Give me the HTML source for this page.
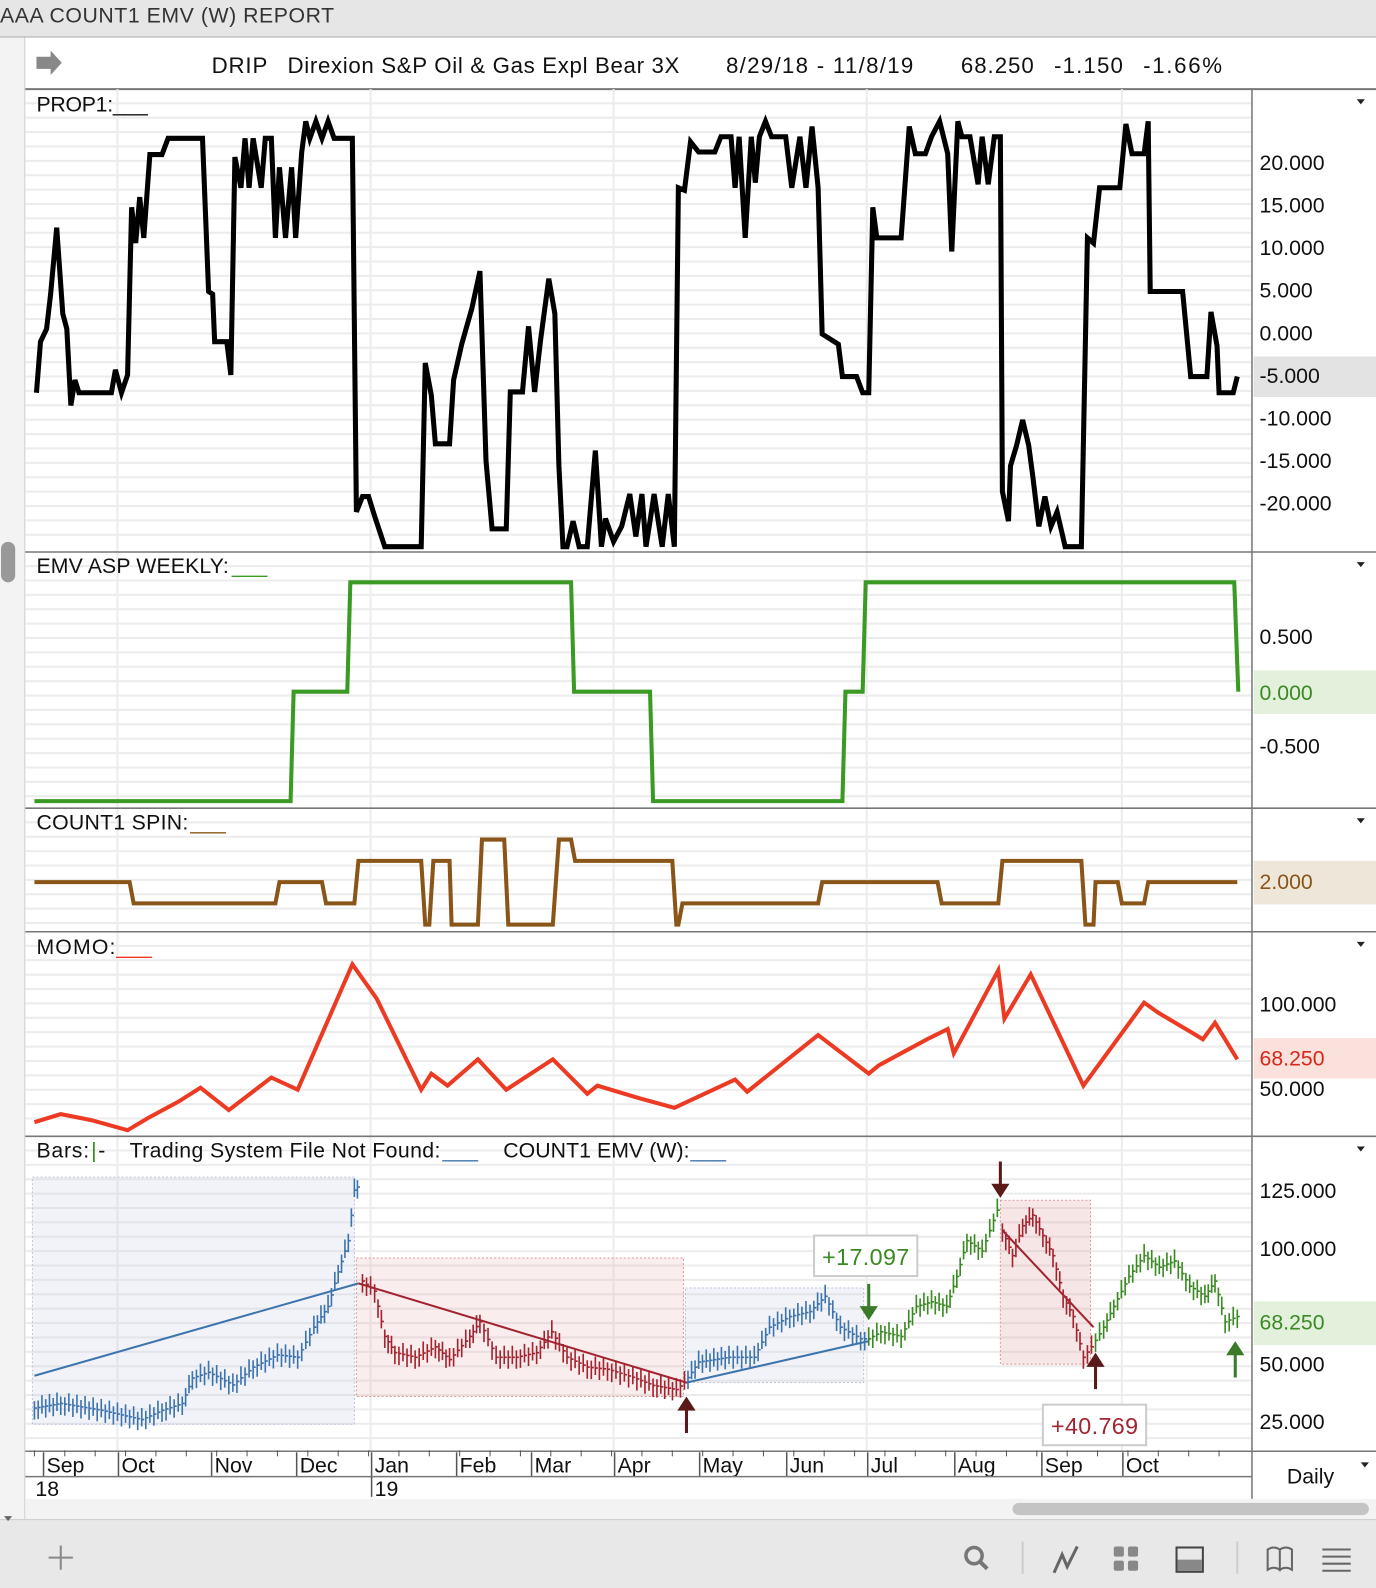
<!DOCTYPE html>
<html><head><meta charset="utf-8"><style>
html,body{margin:0;padding:0;width:1376px;height:1588px;overflow:hidden;background:#fff;font-family:"Liberation Sans",sans-serif;}
svg{display:block;position:absolute;left:0;top:0}
text{font-family:"Liberation Sans",sans-serif;}
</style></head><body>
<svg id="c" width="1376" height="1588" viewBox="0 0 1359 1568" preserveAspectRatio="none" xmlns="http://www.w3.org/2000/svg">
<rect x="0" y="0" width="1376" height="1588" fill="#fff"/>
<rect x="0" y="0" width="1376" height="36" fill="#e6e6e6"/>
<line x1="0" y1="36.5" x2="1376" y2="36.5" stroke="#aaa"/>
<text x="0" y="22" font-size="21" fill="#333" textLength="330">AAA COUNT1 EMV (W)  REPORT</text>
<rect x="0" y="37" width="24" height="1463" fill="#f3f3f3"/>
<line x1="24.5" y1="37" x2="24.5" y2="1500" stroke="#ccc"/>
<rect x="1" y="535" width="14" height="40" rx="7" fill="#999"/>
<path d="M36 56h14v-6l11 12l-11 12v-6h-14z" fill="#888"/>
<g font-size="22" fill="#111">
<text x="209" y="72" textLength="55">DRIP</text>
<text x="284" y="72" textLength="387">Direxion S&amp;P Oil &amp; Gas Expl Bear 3X</text>
<text x="717" y="72" textLength="185">8/29/18 - 11/8/19</text>
<text x="949" y="72" textLength="72">68.250</text>
<text x="1041" y="72" textLength="68">-1.150</text>
<text x="1129" y="72" textLength="78">-1.66%</text>
</g>
<line x1="25" y1="88" x2="1359" y2="88" stroke="#777" stroke-width="2"/>
<g id="grid"></g>
<g id="marks"></g>
<line x1="1236.5" y1="88" x2="1236.5" y2="1480" stroke="#777" stroke-width="1.5"/>
<g id="axis"></g>
<rect x="25" y="1480" width="1351" height="20" fill="#f3f3f3"/>
<rect x="1000" y="1484" width="352" height="12" rx="6" fill="#c4c4c4"/>
<rect x="0" y="1500" width="1376" height="88" fill="#e8e8e8"/>
<line x1="0" y1="1500.5" x2="1376" y2="1500.5" stroke="#ccc"/>
<path d="M4 1497l4 5l4-5z" fill="#666"/>
<g stroke="#888" stroke-width="2" fill="none">
<path d="M60 1526v24M48 1538h24"/>
<circle cx="962" cy="1536" r="8" stroke="#777" stroke-width="3.5"/>
<path d="M968 1542l7 7" stroke="#777" stroke-width="4"/>
<path d="M1010 1522v32M1222 1522v32" stroke="#ccc"/>
<path d="M1041 1553l8-18l5 12l10-20" stroke="#666" stroke-width="3"/>
<rect x="1162" y="1528" width="26" height="24" stroke="#444"/>
<path d="M1252 1530q6-4 12 0v20q-6-4-12 0zM1264 1530q6-4 12 0v20q-6-4-12 0z" stroke="#666"/>
<path d="M1306 1530h28M1306 1537h28M1306 1544h28M1306 1551h28" stroke="#666"/>
</g>
<rect x="1163" y="1540" width="24" height="11" fill="#888"/>
<g fill="#888"><rect x="1100" y="1527" width="10" height="10" rx="2"/><rect x="1114" y="1527" width="10" height="10" rx="2"/><rect x="1100" y="1541" width="10" height="10" rx="2"/><rect x="1114" y="1541" width="10" height="10" rx="2"/></g>
</svg>
<script>
// ---- data ----
const propT=[0.5,1.5,3,4,5.5,7,8,9,10,11,19,20,21.5,23,24,25,26,27,28.5,31.5,33,41.5,43,44,44.5,47.5,48.5,49.5,51,52,53,54,56,57,58.5,59.5,60.5,62,63.5,64.5,66,67,68,69.5,71,72.5,74,78.5,79.5,81,82.5,84,86.5,95.5,96.5,98,99,102.5,103.5,105.5,108,110,111.5,113,116.5,117.5,120.5,122,123.5,125,127,128.5,129.5,130.5,131.5,133,134.5,136.5,138.5,140,141,143,145,147,148.5,150,151,152,153,155,156.5,158,159,160.5,162,164,168,169.5,172,173,174,175.5,177,178,179,180.5,182,185.5,187,189,190.5,192,193.5,194.5,198.5,199.5,203,204.5,206,207,208,214,216,217.5,220,221.5,223.5,225.5,226.5,228,229,231,233,234,235.5,237,238.5,239,240.5,241,242.5,244,245.5,246.5,248,249.5,251,252.5,254.5,258.5,260,261.5,263,268,269.5,271,274,275,275.5,283.5,285.5,289.5,290.5,292,292.5,296,297];
const propV=[-7,-1,0.5,4.6,12.4,2.3,0.5,-8.5,-5.5,-7,-7,-4.3,-7,-4.9,14.8,10.6,16,11.2,21,21,22.9,22.9,4.9,4.6,-1,-1,-4.9,20.7,17.1,22.9,17.1,22.9,17.1,22.9,22.9,11.2,19.5,11.2,19.5,11.2,21.3,24.9,22.9,24.9,22.9,24.9,22.9,22.9,-21,-19.2,-19.2,-21.5,-25.1,-25.1,-3.5,-7.3,-13,-13,-5.5,-1.3,2.9,7.3,-15,-23,-23,-6.9,-6.9,0.8,-6.9,-0.7,6.4,2.3,-15.6,-25.1,-25.1,-22.1,-25.1,-25.1,-13.8,-25.1,-21.8,-24.5,-22.7,-18.9,-23.9,-18.9,-25.1,-22.1,-18.9,-25.1,-18.9,-25.1,17.1,16.8,22.5,21.3,21.3,23.1,23.1,17.1,23.1,11.2,23.1,17.7,23.1,24.9,23.1,23.1,17.1,23.1,17.1,24.3,17.1,-0.1,-1.3,-5.1,-5.1,-7,-7,14.8,11.2,11.2,24.3,21.1,21.1,23.1,24.9,21.1,9.6,24.9,23.1,23.1,17.5,23.1,17.5,23.1,23.1,-18.6,-22.1,-15.6,-13.2,-10.2,-13.2,-16.8,-22.7,-19.2,-22.7,-21,-25.1,-25.1,11.2,10.6,17.1,17.1,24.6,21.1,21.1,24.9,4.9,4.9,-5.1,-5.1,2.5,-1.5,-7,-7,-5.1];
const emvT=[0,63.25,64,77.25,78,132.5,133.25,152,152.75,199.5,200.25,204.5,205.25,296.25,297.25];
const emvV=[-1,-1,0,0,1,1,0,0,-1,-1,0,0,1,1,0];
const spinT=[0,23.5,24.5,59.5,60.5,71,72,79,80,95.5,96.5,97.5,98.5,102.5,103,109.5,110.5,116,117,128,129.5,132.5,133.5,157.5,158.5,159,160,193.5,194.5,223,224,238,239,258.5,259.5,261.5,262,267.5,268.5,274,275,297];
const spinV=[2,2,1,1,2,2,1,1,3,3,0,0,3,3,0,0,4,4,0,0,4,4,3,3,0,0,1,1,2,2,1,1,3,3,0,0,2,2,1,1,2,2];
const momoT=[0,6.5,14,23,28,35.5,41,48,58.5,65,78.5,84.5,95.5,98,102,109.5,116.5,128,136.5,139,149,158,173,176,193.5,206,208.5,220.5,225.5,227,238,239.5,246,259,274,277.5,286,288.5,291.5,297];
const momoV=[30.1,34.9,31.3,25.3,32.5,42.2,50.6,37.3,56.6,49.4,124,103.6,49.4,59,51.8,67.5,49.4,67.5,47,51.8,44.6,38.6,55.4,48.2,81.9,59,63.9,79.5,85.5,71.1,120.5,91.6,118,51.8,101.2,95.2,83.1,79.4,89.2,67.5];
const priceT=[0,6.5,16.5,26.5,31.5,36.5,39,43,49,54,60,65,69,72.5,75,77.5,79,79.75,81,84,86.5,89,94,99,102.5,107.5,110,114,119,124,127.75,131.5,136.5,141.5,147.75,152.75,158.5,160.5,164,171.5,177.75,181.5,186.5,191.5,195.25,199,204,206,209,214,217.75,221.5,225.25,227.75,230.25,234,237.75,239,241.5,244,246.5,249,251.5,254,256.5,259,261,264,266.5,270.25,274,277.75,281.5,285.25,289,291.5,294,297];
const priceV=[31,33,30,26,30,33,44,46.5,41,48.7,54,53,66,75,90,103.5,125.4,126.7,86,81.6,62,55,53,57.5,52,62,68.4,53,53,55,64,53,48.7,47.8,44.3,40.8,39,42,50.9,53,53,66,70.6,72.8,79.4,66,61,61,64,62,75,77,75,88,103.5,99,116.7,108,97,110,114.5,105.7,97,79.4,70.6,53,57.5,66,75,88,97,92,94.7,83.8,79.4,86,68.4,70.6];
const segEnd=[80,161,206,238.5,261.5,999];
const segColor=['#3d74ad','#a3232f','#3d74ad','#3a8a23','#a3232f','#3a8a23'];
const months=['Sep','Oct','Nov','Dec','Jan','Feb','Mar','Apr','May','Jun','Jul','Aug','Sep','Oct'];
const monthT=[3,21.5,44.5,65.5,84,105,123.5,144,165,186.5,206.5,228,249.5,269.5];
const propTicks=[20,15,10,5,0,-5,-10,-15,-20];
const emvTicks=[0.5,-0.5];
const momoTicks=[100,50];
const priceTicks=[125,100,50,25];

// ---- scales ----
const X=t=>34+t*4;
const yProp=v=>329-v*8.4;
const yEmv=v=>683-v*108;
const ySpin=v=>871-(v-2)*21;
const yMomo=v=>1158-v*1.66;
const yPrice=v=>1461-v*2.28;
const NS='http://www.w3.org/2000/svg';
function mk(parent,tag,attrs){const e=document.createElementNS(NS,tag);for(const k in attrs)e.setAttribute(k,attrs[k]);parent.appendChild(e);return e;}
const G=document.getElementById('grid'),M=document.getElementById('marks'),A=document.getElementById('axis');
const panels=[[88,545],[545,798],[798,920],[920,1122],[1122,1433]];
panels.forEach((p,i)=>{
  for(let y=p[0]+14;y<p[1]-4;y+=14.2){mk(G,'line',{x1:25,x2:1236,y1:y,y2:y,stroke:'#ececec','stroke-width':2});}
  monthT.forEach((t,j)=>{if(j%3===1||j===4||j===10){mk(G,'line',{x1:X(t)-4,x2:X(t)-4,y1:p[0],y2:p[1],stroke:'#ececec','stroke-width':2});}});
  if(i>0){mk(G,'line',{x1:25,x2:1359,y1:p[0],y2:p[0],stroke:'#777','stroke-width':1.5});}
  const tri=mk(A,'path',{d:`M1340 ${p[0]+10}h8l-4 5z`,fill:'#222'});
  
  
});
mk(G,'line',{x1:25,x2:1359,y1:1433,y2:1433,stroke:'#777','stroke-width':1.5});
function poly(ts,vs,ys,color,w,name){
  const pts=ts.map((t,i)=>X(t).toFixed(1)+','+ys(vs[i]).toFixed(1)).join(' ');
  const e=mk(M,'polyline',{points:pts,fill:'none',stroke:color,'stroke-width':w,'stroke-linejoin':'miter'});
  
  
  return e;
}
function label(x,y,txt,color,size,name,len){const e=mk(A,'text',{x:x,y:y,'font-size':size||20,fill:color||'#111'});if(len)e.setAttribute('textLength',len);e.textContent=txt;return e;}
[[352,392,'#e3e3e3'],[662,705,'#e3f0dc'],[850,893,'#efe6da'],[1025,1065,'#fbe1dc'],[1285,1328,'#e3f0dc']].forEach(b=>{
  const r=mk(A,'rect',{x:1238,y:b[0],width:121,height:b[1]-b[0],fill:b[2]});
  
  
});
const cp=mk(M,'clipPath',{id:'cp'});mk(cp,'rect',{x:25,y:90,width:1211,height:454});
const propLine=poly(propT,propV,yProp,'#000',5,'prop1-line');propLine.setAttribute('clip-path','url(#cp)');
poly(emvT,emvV,yEmv,'#3a9a23',4,'emv-line');
poly(spinT,spinV.map(v=>Math.max(v,-0.1)),ySpin,'#8a5518',4,'count1-spin-line');
poly(momoT,momoV,yMomo,'#ec3b22',4,'momo-line');
label(36,110,'PROP1:___','#111',21,'prop1-title',110);
label(36,566,'EMV ASP WEEKLY:','#111',21,'emv-title',190);label(229,566,'___','#3a9a23',21,'emv-legend');
label(36,819,'COUNT1 SPIN:','#111',21,'spin-title',150);label(188,819,'___','#8a5518',21,'spin-legend');
label(36,942,'MOMO:','#111',21,'momo-title',78);label(115,942,'___','#ec3b22',21,'momo-legend');
label(36,1143,'Bars:','#111',21,'bars-title',52);label(90,1143,'|','#3a8a23',21,'bars-legend');label(97,1143,'-','#111',21,'bars-dash');
label(128,1143,'Trading System File Not Found:','#111',21,'system-title',307);label(437,1143,'___','#3d74ad',21,'system-legend');
label(497,1143,'COUNT1 EMV (W):','#111',21,'count1-title',184);label(682,1143,'___','#3d74ad',21,'count1-legend');
function fmt(v){return (v<0?'-':'')+Math.abs(v).toFixed(3);}
propTicks.forEach(v=>label(1244,yProp(v)+7,fmt(v),'#111',21,'prop1-tick'));
emvTicks.forEach(v=>label(1244,yEmv(v)+7,fmt(v),'#111',21,'emv-tick'));
label(1244,yEmv(0)+8,'0.000','#3a8a23',21,'emv-last-value');
label(1244,878,'2.000','#8a5518',21,'spin-last-value');
momoTicks.forEach(v=>label(1244,yMomo(v)+7,v.toFixed(3),'#111',21,'momo-tick'));
label(1244,1052,'68.250','#d8261c',21,'momo-last-value');
priceTicks.forEach(v=>label(1244,yPrice(v)+7,v.toFixed(3),'#111',21,'price-tick'));
label(1244,1313,'68.250','#3a8a23',21,'price-last-value');
function box(t0,t1,v0,v1,fill,stroke,name){const r=mk(M,'rect',{x:X(t0),y:yPrice(v1),width:X(t1)-X(t0),height:yPrice(v0)-yPrice(v1),fill:fill,stroke:stroke,'stroke-dasharray':'2 2'});}
box(-0.5,79,24,131,'rgba(190,200,225,0.22)','#b8c4dc','long-box-1');
box(79.5,160.25,36,96,'rgba(220,140,140,0.16)','#d99','short-box-1');
box(160.75,204.75,42,83,'rgba(190,200,225,0.22)','#b8c4dc','long-box-2');
box(238.5,260.75,50,121,'rgba(220,140,140,0.22)','#d99','short-box-2');
[[0,45,80,85,'#3d74ad'],[80,85,161,42,'#a3232f'],[161,42,206,60,'#3d74ad'],[239,108,261.5,66,'#a3232f']].forEach(l=>{
  const e=mk(M,'line',{x1:X(l[0]),y1:yPrice(l[1]),x2:X(l[2]),y2:yPrice(l[3]),stroke:l[4],'stroke-width':2});
  
});
function colorAt(t){for(let i=0;i<segEnd.length;i++)if(t<segEnd[i])return segColor[i];return segColor[5];}
for(let i=0;i<priceT.length;i++){
  const prev=i>0?priceV[i-1]:priceV[0];
  const n=i>0?Math.max(1,Math.round((priceT[i]-priceT[i-1]))):1;
  for(let k=0;k<n;k++){
    const t=i>0?priceT[i-1]+(priceT[i]-priceT[i-1])*(k+1)/n:priceT[0];
    const c=prev+(priceV[i]-prev)*(k+1)/n;
    const col=colorAt(t);
    const b=mk(M,'path',{d:`M${X(t)} ${yPrice(c+(k%2?5:3))}V${yPrice(c-(k%2?3:5))}M${X(t)} ${yPrice(c)}h2.5`,stroke:col,'stroke-width':1.6,fill:'none'});
    
    
  }
}
function arrow(t,vTip,dir,color){const x=X(t),y=yPrice(vTip);const s=dir>0?1:-1;
  const e=mk(M,'path',{d:`M${x-9} ${y+s*14}L${x} ${y}L${x+9} ${y+s*14}z M${x-1.5} ${y+s*12}h3v${s*24}h-3z`,fill:color});
  }
arrow(161,36,1,'#5a1a1a');arrow(206,69,-1,'#3a7a28');arrow(238.5,122,-1,'#5a1a1a');arrow(262,55,1,'#5a1a1a');arrow(296.5,60,1,'#3a7a28');
[[804,1220,'+17.097','#3a8a23'],[1030,1387,'+40.769','#a3232f']].forEach(l=>{
  const r=mk(A,'rect',{x:l[0],y:l[1],width:102,height:40,fill:'#fff',stroke:'#ccc','stroke-width':2});
  
  label(l[0]+8,l[1]+29,l[2],l[3],23,'trade-profit-label',86);
});
monthT.forEach((t,i)=>{
  const x=X(t);
  mk(A,'line',{x1:x-3,x2:x-3,y1:1434,y2:1458,stroke:'#555','stroke-width':1.5});
  label(x,1454,months[i],'#111',21,'month-label');
});
mk(A,'line',{x1:25,x2:1236,y1:1458,y2:1458,stroke:'#777','stroke-width':1.5});
for(let t=0;t<298;t+=7.5){mk(A,'line',{x1:X(t),x2:X(t),y1:1432,y2:1438,stroke:'#555'});}
label(35,1477,'18','#111',21,'year-label');
mk(A,'line',{x1:X(84)-3,x2:X(84)-3,y1:1458,y2:1478,stroke:'#555','stroke-width':1.5});
label(X(84),1477,'19','#111',21,'year-label');
label(1271,1465,'Daily','#111',21,'period-selector');
mk(A,'path',{d:'M1344 1444h8l-4 5z',fill:'#222'});
</script>
</body></html>
